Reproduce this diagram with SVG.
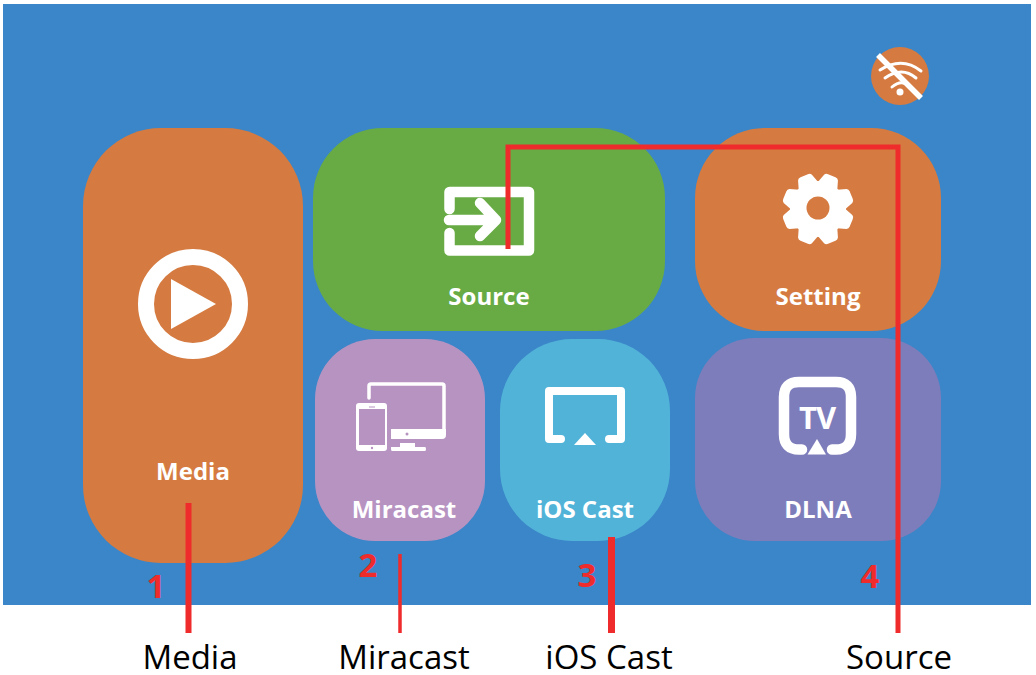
<svg xmlns="http://www.w3.org/2000/svg" width="1036" height="675" viewBox="0 0 1036 675">
<style>
.lbl{font-family:"Open Sans","Noto Sans",sans-serif;font-weight:700;font-size:24px;fill:#fff;text-anchor:middle}
.cap{font-family:"Open Sans","Noto Sans",sans-serif;font-size:33px;fill:#000;text-anchor:middle}
.num{font-family:"Open Sans","Noto Sans",sans-serif;font-weight:700;font-size:33px;fill:#f02b2b;text-anchor:middle}
.w{fill:#fff}
.ws{fill:none;stroke:#fff;stroke-linecap:round;stroke-linejoin:round}
.c{fill:none;stroke:#f02b2b;stroke-linejoin:miter}
</style>
<defs>
<path id="tooth" class="w" d="M-10.500 -25L-7.500 -34Q-6.500 -36 -4 -36H4Q6.500 -36 7.500 -34L10.500 -25Z"/>
</defs>
<rect width="1036" height="675" fill="#fff"/>
<rect x="3" y="4" width="1028" height="601" fill="#3a86c8"/>
<g id="wifi">
<circle cx="900" cy="76" r="29" fill="#d57b41"/>
<path class="ws" stroke-width="3" d="M880 70Q902 56 921 71M885 78Q902 66 916 78M892 87Q901 79 910 86"/>
<circle cx="900" cy="92" r="3.500" class="w"/>
<path d="M878 55L921 98" stroke="#fff" stroke-width="5.500" fill="none"/>
</g>
<g id="media">
<rect x="83" y="128" width="220" height="435" rx="78" fill="#d57b41"/>
<circle cx="193" cy="304" r="47" fill="none" stroke="#fff" stroke-width="16"/>
<path class="w" d="M171 279L216 304L171 329Z"/>
<text class="lbl" x="193" y="480">Media</text>
</g>
<g id="source">
<rect x="313" y="128" width="352" height="203" rx="70" fill="#68ab45"/>
<path class="ws" stroke-width="10.500" d="M449.500 209V192H529V250.500H449.500V233"/>
<path class="ws" stroke-width="10.500" d="M449 220H496M480 203L496 220L480 236"/>
<text class="lbl" x="489" y="305">Source</text>
</g>
<g id="setting">
<rect x="695" y="128" width="246" height="203" rx="70" fill="#d57b41"/>
<circle cx="818" cy="209" r="28" class="w"/>
<g transform="translate(818 209)">
<use href="#tooth" transform="rotate(22.500)"/>
<use href="#tooth" transform="rotate(67.500)"/>
<use href="#tooth" transform="rotate(112.500)"/>
<use href="#tooth" transform="rotate(157.500)"/>
<use href="#tooth" transform="rotate(202.500)"/>
<use href="#tooth" transform="rotate(247.500)"/>
<use href="#tooth" transform="rotate(292.500)"/>
<use href="#tooth" transform="rotate(337.500)"/>
</g>
<circle cx="818" cy="208" r="11.500" fill="#d57b41"/>
<text class="lbl" x="818" y="305">Setting</text>
</g>
<g id="miracast">
<rect x="315" y="339" width="170" height="202" rx="60" fill="#b793c2"/>
<path class="ws" stroke-width="3.500" d="M369 398V386Q369 384 371 384H442Q444 384 444 386V429"/>
<path class="w" d="M391 429H446V435Q446 439 442 439H391ZM391 447H400V443H415V447H425Q426 447 426 449Q426 451 425 451H392Q391 451 391 449Z"/>
<circle cx="407" cy="434" r="1.500" fill="#b793c2"/>
<rect x="356" y="403" width="31" height="48" rx="3" class="w"/>
<rect x="359" y="409" width="26" height="36" fill="#b793c2"/>
<path d="M369 407H375" stroke="#b793c2" stroke-width="1" fill="none"/>
<circle cx="372" cy="448" r="1.200" fill="#b793c2"/>
<text class="lbl" x="404" y="518">Miracast</text>
</g>
<g id="ioscast">
<rect x="500" y="339" width="170" height="202" rx="72" fill="#52b3d8"/>
<path class="ws" stroke-width="8" d="M561 439H549V391H621V439H609"/>
<path class="w" d="M574 445L585 433L596 445Z"/>
<text class="lbl" x="585" y="518">iOS Cast</text>
</g>
<g id="dlna">
<rect x="695" y="338" width="246" height="203" rx="60" fill="#7e7dbb"/>
<path class="ws" stroke-width="10.500" d="M802 449.500H799Q784 449.500 784 434V397Q784 382 799 382H836Q851 382 851 397V434Q851 449.500 836 449.500H832"/>
<path class="w" d="M807.500 454.500L817 439L826 454.500Z"/>
<text x="817" y="428.500" font-family="'Open Sans',sans-serif" font-weight="700" font-size="31" letter-spacing="-1" fill="#fff" text-anchor="middle">TV</text>
<text class="lbl" x="818" y="518">DLNA</text>
</g>
<g id="connectors">
<path class="c" stroke-width="6" d="M188.500 503V633"/>
<path class="c" stroke-width="3.500" d="M400 554V633"/>
<path class="c" stroke-width="7" d="M611.500 537V633"/>
<path class="c" stroke-width="5" d="M508 249V147H898V633"/>
</g>
<g id="markers">
<text class="num" x="156" y="598">1</text>
<text class="num" x="368" y="577">2</text>
<text class="num" x="587" y="587">3</text>
<text class="num" x="870" y="588">4</text>
</g>
<g id="captions">
<text class="cap" x="190" y="669">Media</text>
<text class="cap" x="404" y="669">Miracast</text>
<text class="cap" x="609" y="669">iOS Cast</text>
<text class="cap" x="899" y="669">Source</text>
</g>
</svg>
